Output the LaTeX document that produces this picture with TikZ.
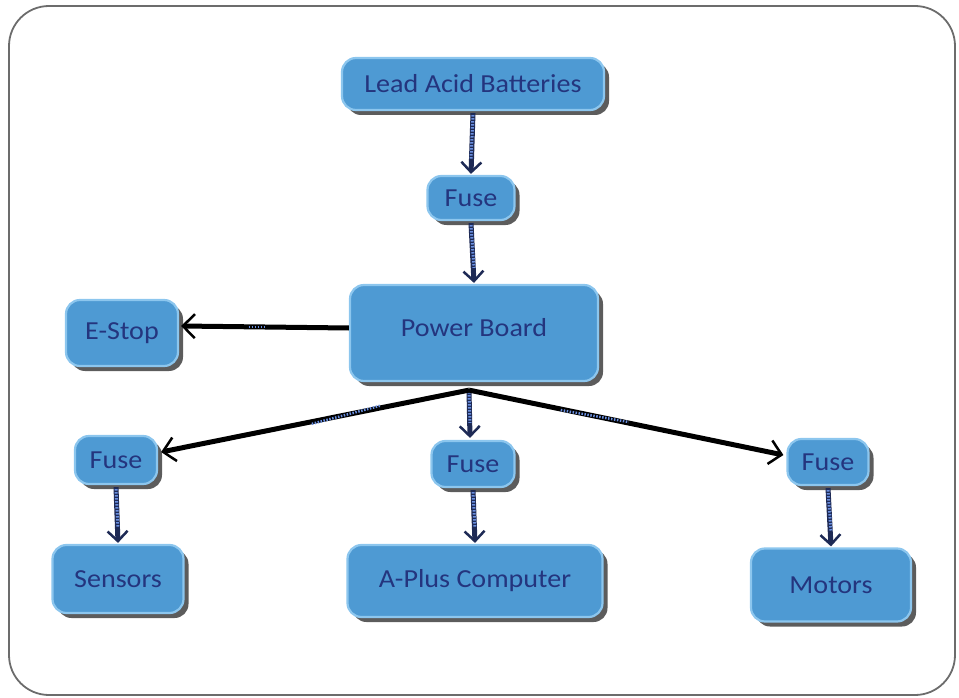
\documentclass[tikz,border=0pt]{standalone}
\usepackage{fontspec}
\setmainfont[FakeStretch=1.08]{Carlito}
\usetikzlibrary{shadows,arrows.meta,calc}
\definecolor{boxfill}{HTML}{4E9AD3}
\definecolor{boxedge}{HTML}{8CC6EE}
\definecolor{boxtext}{HTML}{24357E}
\definecolor{navy}{HTML}{1E2A55}
\definecolor{stripe}{HTML}{6A8FE0}
\tikzset{
  blk/.style={rounded corners=14pt, fill=boxfill, draw=boxedge, line width=2.2pt,
    text=boxtext, font=\fontsize{26}{28}\selectfont, inner sep=0pt, align=center,
    drop shadow={shadow xshift=5pt, shadow yshift=-5pt, opacity=0.75, fill=black!85}},
  feed/.style={draw=navy, line width=5pt, -{Straight Barb[length=10pt,width=20pt,line width=2.5pt]}},
  feedstripe/.style={draw=stripe, line width=3pt, dash pattern=on 1.5pt off 1.5pt},
  wire/.style={draw=black, line width=5pt, -{Straight Barb[length=12pt,width=24pt,line width=2.5pt]}},
  wiremark/.style={draw=stripe, line width=2.5pt, dash pattern=on 1.5pt off 1.5pt}
}
\begin{document}
\begin{tikzpicture}[x=1pt,y=-1pt]
\useasboundingbox (0,0) rectangle (959,698);
\draw[gray!85!black, line width=1.8pt, rounded corners=40pt] (9,6) rectangle (955,695);

\node[blk, minimum width=262pt, minimum height=52pt] (lab) at (473,84) {Lead Acid Batteries};
\node[blk, minimum width=87pt, minimum height=44pt] (f0) at (471,198) {Fuse};
\node[blk, minimum width=248pt, minimum height=96pt, text depth=12pt] (pb) at (474,333) {Power Board};
\node[blk, minimum width=112pt, minimum height=66pt] (es) at (122,333) {E-Stop};
\node[blk, minimum width=82pt, minimum height=48pt] (fl) at (116,460) {Fuse};
\node[blk, minimum width=83pt, minimum height=46pt] (fm) at (473,464) {Fuse};
\node[blk, minimum width=81pt, minimum height=46pt] (fr) at (828,462) {Fuse};
\node[blk, minimum width=131pt, minimum height=68pt] (sen) at (118,579) {Sensors};
\node[blk, minimum width=255pt, minimum height=72pt] (apc) at (475,581) {A-Plus Computer};
\node[blk, minimum width=160pt, minimum height=73pt] (mot) at (831,585) {Motors};

% striped feed arrows
\foreach \a/\b in {lab/f0, f0/pb, fl/sen, fm/apc, fr/mot}{
  \draw[feed] ($(\a.south)+(0,2)$) -- ($(\b.north)+(0,-1)$);
  \draw[feedstripe] ($(\a.south)+(0,4)$) -- ($(\b.north)+(0,-16)$);
}
\coordinate (pbo) at ($(pb.south)+(-5,8)$);
\draw[feed] (pbo) -- ($(fm.north)+(-3,-2)$);
\draw[feedstripe] ($(pbo)+(0,2)$) -- ($(fm.north)+(-3,-17)$);

% black wires
\draw[wire] ($(pb.west)+(0,-5)$) -- coordinate[pos=0.55] (m1) ($(es.east)+(2,-7)$);
\draw[wire] (pbo) -- coordinate[pos=0.4] (m2) ($(fl.east)+(3,-8)$);
\draw[wire] (pbo) -- coordinate[pos=0.4] (m3) ($(fr.west)+(-3,-7)$);
\draw[wiremark] ($(m1)+(-8,0)$) -- ($(m1)+(8,0)$);
\draw[wiremark] ($(m2)+(-34,9)$) -- ($(m2)+(34,-9)$);
\draw[wiremark] ($(m3)+(-34,-6)$) -- ($(m3)+(34,6)$);
\end{tikzpicture}
\end{document}
